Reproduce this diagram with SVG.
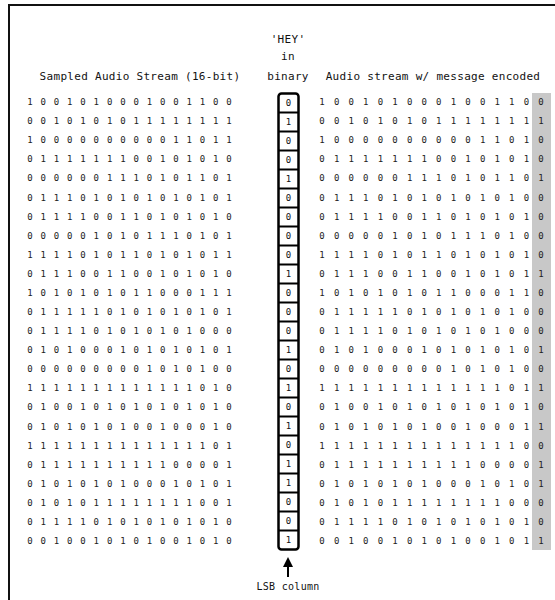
<svg xmlns="http://www.w3.org/2000/svg" width="555" height="600" viewBox="0 0 555 600">
<defs>
<style>
.hd{font-family:"DejaVu Sans Mono","Liberation Mono",monospace;font-size:11px;fill:#111;letter-spacing:0.3px}
.lb{font-family:"DejaVu Sans Mono","Liberation Mono",monospace;font-size:10px;fill:#111;letter-spacing:0.3px}
.d{font-family:"DejaVu Sans Mono","Liberation Mono",monospace;font-size:9px;fill:#222;text-anchor:middle}
.h{font-family:"DejaVu Sans Mono","Liberation Mono",monospace;font-size:9px;fill:#111;text-anchor:middle}
.cell{fill:#fff;stroke:#000;stroke-width:2.5}
.sep{stroke:#000;stroke-width:2}
.conn{stroke:#000;stroke-width:2;fill:none}
</style>
<marker id="ah" viewBox="0 0 10 10" refX="8" refY="5" markerWidth="5" markerHeight="5" orient="auto"><path d="M0,0 L10,5 L0,10 z" fill="#000"/></marker>
</defs>
<rect width="555" height="600" fill="#fff"/>
<rect x="9" y="5" width="560" height="610" fill="none" stroke="#111" stroke-width="2"/>

<g id="headers">
<text class="hd" x="140" y="80" text-anchor="middle">Sampled Audio Stream (16-bit)</text>
<text class="hd" x="288" y="43" text-anchor="middle">'HEY'</text>
<text class="hd" x="288" y="60" text-anchor="middle">in</text>
<text class="hd" x="288" y="80" text-anchor="middle">binary</text>
<text class="hd" x="433" y="80" text-anchor="middle">Audio stream w/ message encoded</text>
</g>

<g id="sampled-stream">
<text class="d" x="30 43.27 56.53 69.8 83.07 96.33 109.6 122.87 136.13 149.4 162.67 175.93 189.2 202.47 215.73 229" y="105">1001010001001100</text>
<text class="d" x="30 43.27 56.53 69.8 83.07 96.33 109.6 122.87 136.13 149.4 162.67 175.93 189.2 202.47 215.73 229" y="124.1">0010101011111111</text>
<text class="d" x="30 43.27 56.53 69.8 83.07 96.33 109.6 122.87 136.13 149.4 162.67 175.93 189.2 202.47 215.73 229" y="143.2">1000000000011011</text>
<text class="d" x="30 43.27 56.53 69.8 83.07 96.33 109.6 122.87 136.13 149.4 162.67 175.93 189.2 202.47 215.73 229" y="162.3">0111111100101010</text>
<text class="d" x="30 43.27 56.53 69.8 83.07 96.33 109.6 122.87 136.13 149.4 162.67 175.93 189.2 202.47 215.73 229" y="181.4">0000001110101101</text>
<text class="d" x="30 43.27 56.53 69.8 83.07 96.33 109.6 122.87 136.13 149.4 162.67 175.93 189.2 202.47 215.73 229" y="200.5">0111010101010101</text>
<text class="d" x="30 43.27 56.53 69.8 83.07 96.33 109.6 122.87 136.13 149.4 162.67 175.93 189.2 202.47 215.73 229" y="219.5">0111100110101010</text>
<text class="d" x="30 43.27 56.53 69.8 83.07 96.33 109.6 122.87 136.13 149.4 162.67 175.93 189.2 202.47 215.73 229" y="238.6">0000010101110101</text>
<text class="d" x="30 43.27 56.53 69.8 83.07 96.33 109.6 122.87 136.13 149.4 162.67 175.93 189.2 202.47 215.73 229" y="257.7">1111010110101011</text>
<text class="d" x="30 43.27 56.53 69.8 83.07 96.33 109.6 122.87 136.13 149.4 162.67 175.93 189.2 202.47 215.73 229" y="276.8">0111001100101010</text>
<text class="d" x="30 43.27 56.53 69.8 83.07 96.33 109.6 122.87 136.13 149.4 162.67 175.93 189.2 202.47 215.73 229" y="295.9">1010101011000111</text>
<text class="d" x="30 43.27 56.53 69.8 83.07 96.33 109.6 122.87 136.13 149.4 162.67 175.93 189.2 202.47 215.73 229" y="315">0111110101010101</text>
<text class="d" x="30 43.27 56.53 69.8 83.07 96.33 109.6 122.87 136.13 149.4 162.67 175.93 189.2 202.47 215.73 229" y="334.1">0111101010101000</text>
<text class="d" x="30 43.27 56.53 69.8 83.07 96.33 109.6 122.87 136.13 149.4 162.67 175.93 189.2 202.47 215.73 229" y="353.2">0101000101010101</text>
<text class="d" x="30 43.27 56.53 69.8 83.07 96.33 109.6 122.87 136.13 149.4 162.67 175.93 189.2 202.47 215.73 229" y="372.3">0000000001010100</text>
<text class="d" x="30 43.27 56.53 69.8 83.07 96.33 109.6 122.87 136.13 149.4 162.67 175.93 189.2 202.47 215.73 229" y="391.4">1111111111111010</text>
<text class="d" x="30 43.27 56.53 69.8 83.07 96.33 109.6 122.87 136.13 149.4 162.67 175.93 189.2 202.47 215.73 229" y="410.4">0100101010101010</text>
<text class="d" x="30 43.27 56.53 69.8 83.07 96.33 109.6 122.87 136.13 149.4 162.67 175.93 189.2 202.47 215.73 229" y="429.5">0101010100100010</text>
<text class="d" x="30 43.27 56.53 69.8 83.07 96.33 109.6 122.87 136.13 149.4 162.67 175.93 189.2 202.47 215.73 229" y="448.6">1111111111111101</text>
<text class="d" x="30 43.27 56.53 69.8 83.07 96.33 109.6 122.87 136.13 149.4 162.67 175.93 189.2 202.47 215.73 229" y="467.7">0111111111100001</text>
<text class="d" x="30 43.27 56.53 69.8 83.07 96.33 109.6 122.87 136.13 149.4 162.67 175.93 189.2 202.47 215.73 229" y="486.8">0101010100010101</text>
<text class="d" x="30 43.27 56.53 69.8 83.07 96.33 109.6 122.87 136.13 149.4 162.67 175.93 189.2 202.47 215.73 229" y="505.9">0101011111111001</text>
<text class="d" x="30 43.27 56.53 69.8 83.07 96.33 109.6 122.87 136.13 149.4 162.67 175.93 189.2 202.47 215.73 229" y="525">0111101010101010</text>
<text class="d" x="30 43.27 56.53 69.8 83.07 96.33 109.6 122.87 136.13 149.4 162.67 175.93 189.2 202.47 215.73 229" y="544.1">0010010101001010</text>
</g>

<g id="hey-binary">
<rect class="cell" x="278.5" y="93.5" width="20" height="456" rx="3"/>
<path class="sep" d="M278.5,112.5h20M278.5,131.5h20M278.5,150.5h20M278.5,169.5h20M278.5,188.5h20M278.5,207.5h20M278.5,226.5h20M278.5,245.5h20M278.5,264.5h20M278.5,283.5h20M278.5,302.5h20M278.5,321.5h20M278.5,340.5h20M278.5,359.5h20M278.5,378.5h20M278.5,397.5h20M278.5,416.5h20M278.5,435.5h20M278.5,454.5h20M278.5,473.5h20M278.5,492.5h20M278.5,511.5h20M278.5,530.5h20"/>
<text class="h" x="288.5" y="106">0</text>
<text class="h" x="288.5" y="125">1</text>
<text class="h" x="288.5" y="144">0</text>
<text class="h" x="288.5" y="163">0</text>
<text class="h" x="288.5" y="182">1</text>
<text class="h" x="288.5" y="201">0</text>
<text class="h" x="288.5" y="220">0</text>
<text class="h" x="288.5" y="239">0</text>
<text class="h" x="288.5" y="258">0</text>
<text class="h" x="288.5" y="277">1</text>
<text class="h" x="288.5" y="296">0</text>
<text class="h" x="288.5" y="315">0</text>
<text class="h" x="288.5" y="334">0</text>
<text class="h" x="288.5" y="353">1</text>
<text class="h" x="288.5" y="372">0</text>
<text class="h" x="288.5" y="391">1</text>
<text class="h" x="288.5" y="410">0</text>
<text class="h" x="288.5" y="429">1</text>
<text class="h" x="288.5" y="448">0</text>
<text class="h" x="288.5" y="467">1</text>
<text class="h" x="288.5" y="486">1</text>
<text class="h" x="288.5" y="505">0</text>
<text class="h" x="288.5" y="524">0</text>
<text class="h" x="288.5" y="543">1</text>
</g>

<g id="encoded-stream">
<rect x="532" y="93" width="19" height="457" fill="#c8c8c8"/>
<text class="d" x="322 336.6 351.2 365.8 380.4 395 409.6 424.2 438.8 453.4 468 482.6 497.2 511.8 526.4 541" y="105">1001010001001100</text>
<text class="d" x="322 336.6 351.2 365.8 380.4 395 409.6 424.2 438.8 453.4 468 482.6 497.2 511.8 526.4 541" y="124.1">0010101011111111</text>
<text class="d" x="322 336.6 351.2 365.8 380.4 395 409.6 424.2 438.8 453.4 468 482.6 497.2 511.8 526.4 541" y="143.2">1000000000011010</text>
<text class="d" x="322 336.6 351.2 365.8 380.4 395 409.6 424.2 438.8 453.4 468 482.6 497.2 511.8 526.4 541" y="162.3">0111111100101010</text>
<text class="d" x="322 336.6 351.2 365.8 380.4 395 409.6 424.2 438.8 453.4 468 482.6 497.2 511.8 526.4 541" y="181.4">0000001110101101</text>
<text class="d" x="322 336.6 351.2 365.8 380.4 395 409.6 424.2 438.8 453.4 468 482.6 497.2 511.8 526.4 541" y="200.5">0111010101010100</text>
<text class="d" x="322 336.6 351.2 365.8 380.4 395 409.6 424.2 438.8 453.4 468 482.6 497.2 511.8 526.4 541" y="219.5">0111100110101010</text>
<text class="d" x="322 336.6 351.2 365.8 380.4 395 409.6 424.2 438.8 453.4 468 482.6 497.2 511.8 526.4 541" y="238.6">0000010101110100</text>
<text class="d" x="322 336.6 351.2 365.8 380.4 395 409.6 424.2 438.8 453.4 468 482.6 497.2 511.8 526.4 541" y="257.7">1111010110101010</text>
<text class="d" x="322 336.6 351.2 365.8 380.4 395 409.6 424.2 438.8 453.4 468 482.6 497.2 511.8 526.4 541" y="276.8">0111001100101011</text>
<text class="d" x="322 336.6 351.2 365.8 380.4 395 409.6 424.2 438.8 453.4 468 482.6 497.2 511.8 526.4 541" y="295.9">1010101011000110</text>
<text class="d" x="322 336.6 351.2 365.8 380.4 395 409.6 424.2 438.8 453.4 468 482.6 497.2 511.8 526.4 541" y="315">0111110101010100</text>
<text class="d" x="322 336.6 351.2 365.8 380.4 395 409.6 424.2 438.8 453.4 468 482.6 497.2 511.8 526.4 541" y="334.1">0111101010101000</text>
<text class="d" x="322 336.6 351.2 365.8 380.4 395 409.6 424.2 438.8 453.4 468 482.6 497.2 511.8 526.4 541" y="353.2">0101000101010101</text>
<text class="d" x="322 336.6 351.2 365.8 380.4 395 409.6 424.2 438.8 453.4 468 482.6 497.2 511.8 526.4 541" y="372.3">0000000001010100</text>
<text class="d" x="322 336.6 351.2 365.8 380.4 395 409.6 424.2 438.8 453.4 468 482.6 497.2 511.8 526.4 541" y="391.4">1111111111111011</text>
<text class="d" x="322 336.6 351.2 365.8 380.4 395 409.6 424.2 438.8 453.4 468 482.6 497.2 511.8 526.4 541" y="410.4">0100101010101010</text>
<text class="d" x="322 336.6 351.2 365.8 380.4 395 409.6 424.2 438.8 453.4 468 482.6 497.2 511.8 526.4 541" y="429.5">0101010100100011</text>
<text class="d" x="322 336.6 351.2 365.8 380.4 395 409.6 424.2 438.8 453.4 468 482.6 497.2 511.8 526.4 541" y="448.6">1111111111111100</text>
<text class="d" x="322 336.6 351.2 365.8 380.4 395 409.6 424.2 438.8 453.4 468 482.6 497.2 511.8 526.4 541" y="467.7">0111111111100001</text>
<text class="d" x="322 336.6 351.2 365.8 380.4 395 409.6 424.2 438.8 453.4 468 482.6 497.2 511.8 526.4 541" y="486.8">0101010100010101</text>
<text class="d" x="322 336.6 351.2 365.8 380.4 395 409.6 424.2 438.8 453.4 468 482.6 497.2 511.8 526.4 541" y="505.9">0101011111111000</text>
<text class="d" x="322 336.6 351.2 365.8 380.4 395 409.6 424.2 438.8 453.4 468 482.6 497.2 511.8 526.4 541" y="525">0111101010101010</text>
<text class="d" x="322 336.6 351.2 365.8 380.4 395 409.6 424.2 438.8 453.4 468 482.6 497.2 511.8 526.4 541" y="544.1">0010010101001011</text>
</g>

<g id="connectors">
<line class="conn" x1="288" y1="577" x2="288" y2="559" marker-end="url(#ah)"/>
</g>
<g id="lsb-label">
<text class="lb" x="288" y="590" text-anchor="middle">LSB column</text>
</g>
</svg>
